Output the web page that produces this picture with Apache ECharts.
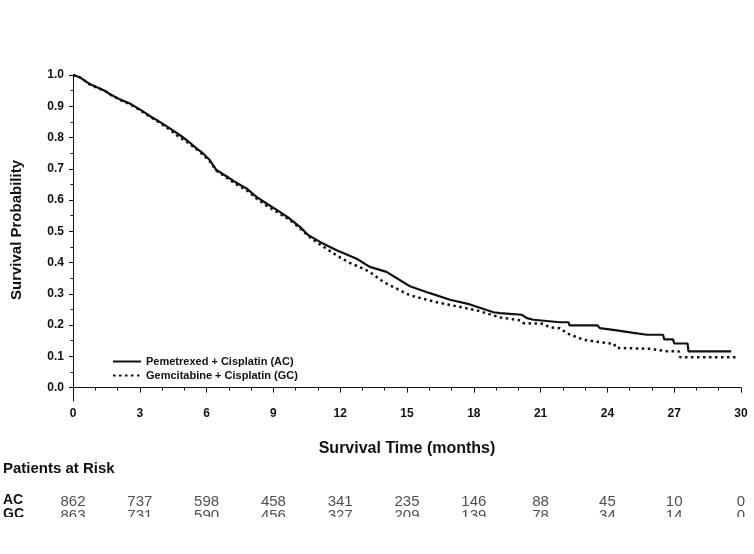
<!DOCTYPE html>
<html>
<head>
<meta charset="utf-8">
<script src="https://cdn.jsdelivr.net/npm/echarts@6/dist/echarts.min.js"></script>
<style>
html,body{margin:0;padding:0;background:#fff;}
#c{width:754px;height:554px;}
</style>
</head>
<body>
<div id="c"></div>
<script>
// ---- data ----
const acTime = [0,0.3,0.75,1.2,1.5,1.65,2.1,2.55,3.0,3.45,3.9,4.35,4.79,5.1,5.55,5.84,6.14,6.44,6.89,7.34,7.79,8.24,8.69,9.29,9.74,10.19,10.56,11.09,11.84,12.74,13.33,14.08,15.13,16.03,16.93,17.83,18.88,19.18,20.15,20.38,20.68,21.87,22.25,22.3,23.55,23.67,24.42,25.17,25.77,26.5,26.55,26.95,27.0,27.6,27.64,29.56];
const acSurv = [1.0,0.993,0.971,0.957,0.947,0.939,0.922,0.909,0.890,0.869,0.850,0.829,0.808,0.792,0.765,0.749,0.728,0.696,0.676,0.655,0.637,0.610,0.589,0.562,0.540,0.514,0.488,0.466,0.439,0.412,0.386,0.370,0.324,0.302,0.281,0.266,0.241,0.238,0.233,0.222,0.217,0.209,0.209,0.199,0.199,0.190,0.183,0.175,0.169,0.169,0.154,0.154,0.141,0.141,0.116,0.116];
const gcTime = [0,0.3,0.75,1.2,1.5,1.65,2.1,2.55,3.0,3.45,3.9,4.35,4.79,5.1,5.55,5.84,6.14,6.44,6.89,7.34,7.79,8.24,8.69,9.29,9.74,10.19,10.56,11.09,11.84,12.4,13.03,13.33,13.93,15.13,16.33,17.23,18.13,19.2,20.1,20.23,21.1,21.4,21.87,22.17,22.92,23.67,24.3,24.38,25.92,26.67,27.2,27.27,29.85];
const gcSurv = [1.0,0.993,0.970,0.956,0.946,0.938,0.921,0.907,0.888,0.867,0.847,0.825,0.800,0.787,0.762,0.745,0.724,0.694,0.672,0.650,0.632,0.605,0.582,0.556,0.536,0.510,0.485,0.458,0.423,0.400,0.380,0.370,0.338,0.295,0.273,0.260,0.247,0.224,0.215,0.206,0.204,0.193,0.190,0.174,0.153,0.145,0.140,0.127,0.124,0.116,0.116,0.097,0.097];
const riskTimes = [0,3,6,9,12,15,18,21,24,27,30];
const riskAC = [862,737,598,458,341,235,146,88,45,10,0];
const riskGC = [863,731,590,456,327,209,139,78,34,14,0];
const yMajorTicks = [0,0.1,0.2,0.3,0.4,0.5,0.6,0.7,0.8,0.9,1.0];
const yMinorTicks = [0.05,0.15,0.25,0.35,0.45,0.55,0.65,0.75,0.85,0.95];
const seriesNames = ['Pemetrexed + Cisplatin (AC)','Gemcitabine + Cisplatin (GC)'];
const riskRows = ['AC','GC'];

const FONT = "'Liberation Sans', Arial, sans-serif";
const INK = '#111';

const chart = echarts.init(document.getElementById('c'), null, {renderer:'canvas'});
const option = {
  animation:false,
  backgroundColor:'#fff',
  grid:[
    {left:73, right:13, top:75, height:326},
    {left:73, right:13, top:493, height:28}
  ],
  legend:{
    orient:'vertical', left:107, top:351, itemWidth:28, itemHeight:10, itemGap:3,
    itemStyle:{opacity:0},
    textStyle:{fontFamily:FONT, fontWeight:'bold', fontSize:11, color:INK},
    data:seriesNames
  },
  xAxis:[
    {type:'value', gridIndex:0, min:0, max:30, interval:3,
     axisLine:{lineStyle:{color:INK, width:1}},
     axisTick:{show:true, length:5, lineStyle:{color:INK}},
     minorTick:{show:true, splitNumber:3, length:3, lineStyle:{color:INK}},
     splitLine:{show:false},
     axisLabel:{fontFamily:FONT, fontWeight:'bold', fontSize:12, color:INK, margin:7},
     name:'Survival Time (months)', nameLocation:'middle', nameGap:40,
     nameTextStyle:{fontFamily:FONT, fontWeight:'bold', fontSize:16, color:INK}
    },
    {type:'value', gridIndex:1, min:0, max:30, show:false}
  ],
  yAxis:[
    {type:'value', gridIndex:0, position:'left', min:-0.043, max:1.0,
     axisLine:{show:true, lineStyle:{color:INK, width:1}},
     axisTick:{show:true, length:4, customValues:yMajorTicks, lineStyle:{color:INK}},
     splitLine:{show:false},
     axisLabel:{customValues:yMajorTicks, fontFamily:FONT, fontWeight:'bold', fontSize:12, color:INK, margin:9,
       formatter:v=>v.toFixed(1)}
    },
    {type:'value', gridIndex:0, position:'left', offset:0, min:-0.043, max:1.0,
     axisLine:{show:false},
     axisTick:{show:true, length:2.5, customValues:yMinorTicks, lineStyle:{color:INK}},
     axisLabel:{show:false}, splitLine:{show:false}
    },
    {type:'category', gridIndex:1, position:'left', data:riskRows, inverse:true,
     axisLine:{show:false}, axisTick:{show:false}, splitLine:{show:false},
     axisLabel:{interval:0, align:'left', margin:70, fontFamily:FONT, fontWeight:'bold', fontSize:14, color:INK}
    }
  ],
  series:[
    {name:seriesNames[0], type:'line', xAxisIndex:0, yAxisIndex:0,
     data:acTime.map((t,i)=>[t,acSurv[i]]), symbol:'none', showSymbol:false, z:4,
     lineStyle:{color:INK, width:2.2}, itemStyle:{color:INK}},
    {name:seriesNames[1], type:'line', xAxisIndex:0, yAxisIndex:0,
     data:gcTime.map((t,i)=>[t,gcSurv[i]]), symbol:'none', showSymbol:false, z:3,
     lineStyle:{color:INK, width:2.5, type:[2.5,3.5], cap:'butt'}, itemStyle:{color:INK}},
    {type:'scatter', xAxisIndex:1, yAxisIndex:2, symbolSize:1, silent:true,
     itemStyle:{color:'rgba(0,0,0,0)'},
     label:{show:true, position:'inside', offset:[0,2], formatter:p=>String(p.value[2]), fontFamily:FONT, fontSize:15, color:'#222'},
     data:riskTimes.map((t,i)=>[t,'AC',riskAC[i]]).concat(riskTimes.map((t,i)=>[t,'GC',riskGC[i]]))}
  ],
  graphic:[
    {type:'text', x:17, y:230, rotation:Math.PI/2,
     style:{text:'Survival Probability', align:'center', verticalAlign:'middle', font:"bold 15px "+FONT, fill:INK}},
    {type:'text', left:3, top:461,
     style:{text:'Patients at Risk', font:"bold 15px "+FONT, fill:INK}},
    {type:'rect', shape:{x:0, y:517, width:754, height:40}, style:{fill:'#fff'}, z:100}
  ]
};
chart.setOption(option);
</script>
</body>
</html>
